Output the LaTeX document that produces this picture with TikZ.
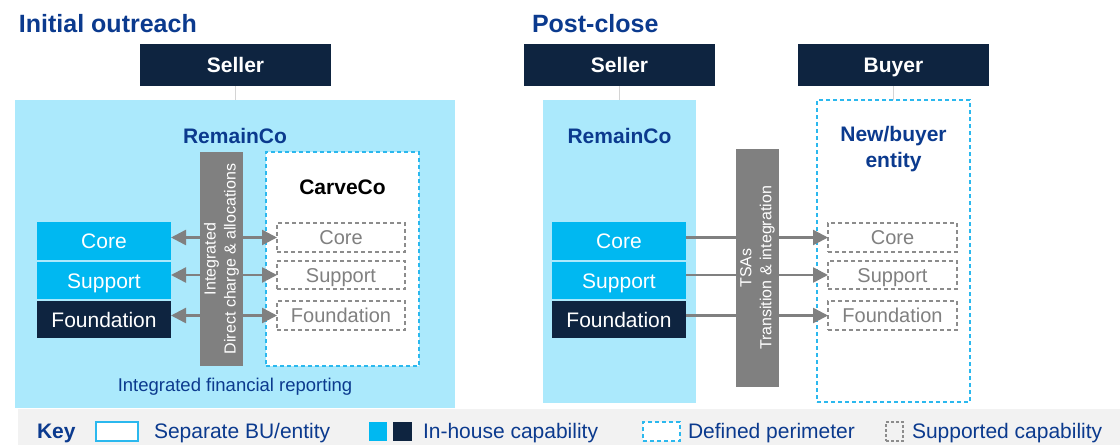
\documentclass[tikz,border=0pt]{standalone}
\usepackage{fontspec}
\setmainfont{Liberation Sans}
\usetikzlibrary{arrows.meta}
\definecolor{navy}{HTML}{0E2440}
\definecolor{ttl}{HTML}{0B3A8E}
\definecolor{lcyan}{HTML}{ABE9FC}
\definecolor{bcyan}{HTML}{00B8F1}
\definecolor{pcyan}{HTML}{2BB8EE}
\definecolor{gbar}{HTML}{808080}
\definecolor{dgray}{HTML}{8C8C8C}
\definecolor{keybg}{HTML}{F2F2F2}
\definecolor{conn}{HTML}{D4D4D4}
\newcommand\fsz[2]{\fontsize{#1}{#2}\selectfont}
\begin{document}
\begin{tikzpicture}[x=1pt,y=-1pt,
  every node/.style={inner sep=0pt, outer sep=0pt},
  boxnw/.style={anchor=north west},
  captxt/.style={text height=15pt, text depth=0pt},
  topbox/.style={boxnw, captxt, fill=navy, text=white, font=\fsz{21}{25}\bfseries},
  entity/.style={boxnw, fill=lcyan},
  perim/.style={boxnw, fill=white, draw=pcyan, line width=1.5pt, dash pattern=on 4pt off 3pt},
  capc/.style={boxnw, captxt, fill=bcyan, text=white, font=\fsz{21}{25}},
  capn/.style={boxnw, captxt, fill=navy, text=white, font=\fsz{21}{25}},
  supp/.style={boxnw, text height=14.3pt, text depth=0pt, draw=dgray, line width=1.2pt, dash pattern=on 4pt off 3pt, text=gbar, font=\fsz{20}{24}},
  bar/.style={fill=gbar, text=white, rotate=90, align=center, font=\fsz{16}{20}},
  title/.style={anchor=base west, text=ttl, font=\fsz{25}{30}\bfseries},
  elabel/.style={text=ttl, font=\fsz{21}{26}\bfseries, align=center},
  conline/.style={draw=conn, line width=1.5pt},
  arr/.style={draw=gbar, line width=2.5pt, -{Triangle[length=15pt,width=15pt]}},
  dblarr/.style={draw=gbar, line width=2.5pt, {Triangle[length=15pt,width=15pt]}-{Triangle[length=15pt,width=15pt]}},
  keytxt/.style={anchor=west, captxt, text=ttl, font=\fsz{21}{25}},
]
\useasboundingbox (0,0) rectangle (1120,445);

% ---------- Left panel ----------
\node[title] (t1) at (19,32) {Initial outreach};
\node[topbox, minimum width=191, minimum height=42] (s1) at (140,44) {Seller};
\node[entity, minimum width=440, minimum height=308] (rcL) at (15,100) {};
\draw[conline] (s1.south) -- (s1.south |- rcL.north);
\node[elabel, captxt] (rcLl) at (235,136) {RemainCo};

\node[capc, minimum width=134, minimum height=38] (cL) at (37,222) {Core};
\node[capc, minimum width=134, minimum height=37] (sL) at (37,262) {Support};
\node[capn, minimum width=134, minimum height=37] (fL) at (37,301) {Foundation};

\node[perim, minimum width=153, minimum height=214] (ccL) at (266,152) {};
\node[captxt, font=\fsz{21}{25}\bfseries] (ccLl) at (342.5,187) {CarveCo};

\node[supp, minimum width=128, minimum height=29] (dcL) at (277,223) {Core};
\node[supp, minimum width=128, minimum height=28] (dsL) at (277,261) {Support};
\node[supp, minimum width=128, minimum height=29] (dfL) at (277,301) {Foundation};

\draw[dblarr] (dcL.west -| cL.east) -- (dcL.west);
\draw[dblarr] (dsL.west -| sL.east) -- (dsL.west);
\draw[dblarr] (dfL.west -| fL.east) -- (dfL.west);

\node[bar, minimum width=214, minimum height=43] (bL) at (221.5,259) {Integrated\\Direct charge \& allocations};

\node[text=ttl, font=\fsz{18.5}{22}] (ifr) at (235,387) {Integrated financial reporting};

% ---------- Right panel ----------
\node[title] (t2) at (532,32) {Post-close};
\node[topbox, minimum width=191, minimum height=42] (s2) at (524,44) {Seller};
\node[topbox, minimum width=191, minimum height=42] (b2) at (798,44) {Buyer};
\node[entity, minimum width=153, minimum height=303] (rcR) at (543,100) {};
\node[perim, minimum width=153, minimum height=302] (nbR) at (817,100) {};
\draw[conline] (s2.south) -- (s2.south |- rcR.north);
\draw[conline] (b2.south) -- (b2.south |- nbR.north);
\node[elabel, captxt] (rcRl) at (619.5,136) {RemainCo};
\node[elabel] (nbRl) at (893.5,149) {New/buyer\\entity};

\node[capc, minimum width=134, minimum height=38] (cR) at (552,222) {Core};
\node[capc, minimum width=134, minimum height=37] (sR) at (552,262) {Support};
\node[capn, minimum width=134, minimum height=37] (fR) at (552,301) {Foundation};

\node[supp, minimum width=129, minimum height=29] (dcR) at (828,223) {Core};
\node[supp, minimum width=129, minimum height=28] (dsR) at (828,261) {Support};
\node[supp, minimum width=129, minimum height=29] (dfR) at (828,301) {Foundation};

\draw[arr] (dcR.west -| cR.east) -- (dcR.west);
\draw[arr] (dsR.west -| sR.east) -- (dsR.west);
\draw[arr] (dfR.west -| fR.east) -- (dfR.west);

\node[bar, minimum width=238, minimum height=43] (bR) at (757.5,268) {TSAs\\Transition \& integration};

% ---------- Key ----------
\fill[keybg] (18,409) rectangle (1120,445);
\node[anchor=west, captxt, text=ttl, font=\fsz{21}{25}\bfseries] (key) at (37,431) {Key};
\node[boxnw, fill=white, draw=pcyan, line width=1.5pt, minimum width=42, minimum height=19] (k1) at (96,422) {};
\node[keytxt] (k1t) at (154,431) {Separate BU/entity};
\node[boxnw, fill=bcyan, minimum width=18, minimum height=19] (k2a) at (369,422) {};
\node[boxnw, fill=navy, minimum width=19, minimum height=19] (k2b) at (393,422) {};
\node[keytxt] (k2t) at (423,431) {In-house capability};
\node[perim, minimum width=37, minimum height=19] (k3) at (643,422) {};
\node[keytxt] (k3t) at (688,431) {Defined perimeter};
\node[boxnw, draw=dgray, line width=1.2pt, dash pattern=on 3pt off 2pt, minimum width=17, minimum height=19] (k4) at (886,422) {};
\node[keytxt] (k4t) at (912,431) {Supported capability};
\end{tikzpicture}
\end{document}
